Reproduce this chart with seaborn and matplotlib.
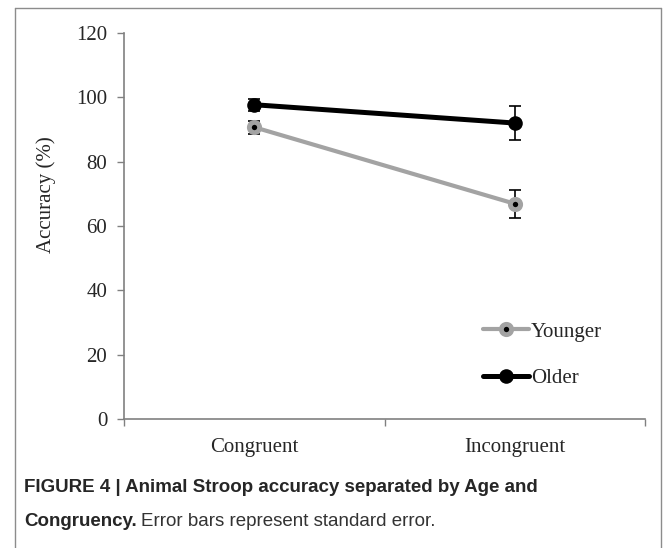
import matplotlib
matplotlib.use("Agg")
import matplotlib.pyplot as plt
import pandas as pd
import seaborn as sns
from matplotlib.lines import Line2D

conditions = ["Congruent", "Incongruent"]
groups = ["Younger", "Older"]
younger_acc = [90.7, 66.9]
younger_se = [2.0, 4.3]
older_acc = [97.7, 92.0]
older_se = [1.9, 5.2]

df = pd.DataFrame({
    "condition": conditions * 2,
    "group": ["Younger"] * 2 + ["Older"] * 2,
    "accuracy": younger_acc + older_acc,
    "se": younger_se + older_se,
})

sns.set_style("white")
serif = ["Liberation Serif", "DejaVu Serif"]
plt.rcParams["font.family"] = serif

fig = plt.figure(figsize=(6.7, 5.48), dpi=100)
ax = fig.add_axes([0.185, 0.2354, 0.778, 0.7044])

styles = {
    "Younger": dict(color="#a3a3a3", lw=3.0, marker="o", ms=7.4, mfc="black",
                    mec="#a3a3a3", mew=3.5),
    "Older": dict(color="black", lw=3.6, marker="o", ms=10.5, mfc="black",
                  mec="black", mew=0),
}

for g in groups:
    sub = df[df["group"] == g]
    sns.lineplot(data=sub, x="condition", y="accuracy", ax=ax, label=g,
                 errorbar=None, **styles[g])
    ax.errorbar(range(len(sub)), sub["accuracy"], yerr=sub["se"], fmt="none",
                ecolor="black", elinewidth=1.2, capsize=4.5, capthick=1.2,
                zorder=1)

ax.set_xlim(-0.5, 1.5)
ax.set_ylim(0, 120)
ax.set_yticks(range(0, 121, 20))
ax.set_xticks([-0.5, 0.5, 1.5])
ax.set_xticklabels([])
ax.set_xticks([0, 1], minor=True)
ax.set_xticklabels(conditions, minor=True)
ax.tick_params(axis="x", which="minor", length=0, pad=14, labelsize=15)
ax.tick_params(axis="x", which="major", direction="out", length=5, width=1,
               color="#808080", bottom=True)
ax.tick_params(axis="y", direction="out", length=5, width=1, color="#808080",
               pad=7, labelsize=15, left=True)
for s in ["top", "right"]:
    ax.spines[s].set_visible(False)
for s in ["left", "bottom"]:
    ax.spines[s].set_color("#808080")
    ax.spines[s].set_linewidth(1.2)

ax.set_xlabel("")
ax.set_ylabel("Accuracy (%)", fontsize=15)
ax.yaxis.set_label_coords(-0.13, 0.58)

ax.legend(loc="center left", bbox_to_anchor=(0.689, 0.165), frameon=False,
          fontsize=15, handlelength=2.2, handletextpad=0.1, labelspacing=1.3,
          borderpad=0, borderaxespad=0)

# figure frame
for xs, ys in [([15 / 670, 15 / 670], [0, 1 - 8 / 548]),
               ([15 / 670, 661 / 670], [1 - 8 / 548, 1 - 8 / 548]),
               ([661 / 670, 661 / 670], [0, 1 - 8 / 548])]:
    fig.add_artist(Line2D(xs, ys, color="#8c8c8c", lw=1.0, transform=fig.transFigure))

sans = ["Liberation Sans", "DejaVu Sans"]
x0 = 24 / 670
fig.text(x0, 1 - 488 / 548, "FIGURE 4 | Animal Stroop accuracy separated by Age and",
         family=sans, fontsize=13.5, fontweight="bold", va="center")
t = fig.text(x0, 1 - 521 / 548, "Congruency.", family=sans, fontsize=13.5,
             fontweight="bold", va="center")
fig.canvas.draw()
bb = t.get_window_extent().transformed(fig.transFigure.inverted())
fig.text(bb.x1 + 4 / 670, 1 - 521 / 548, "Error bars represent standard error.",
         family=sans, fontsize=13.5, color="#333333", va="center")

fig.savefig("out.png", dpi=100)
